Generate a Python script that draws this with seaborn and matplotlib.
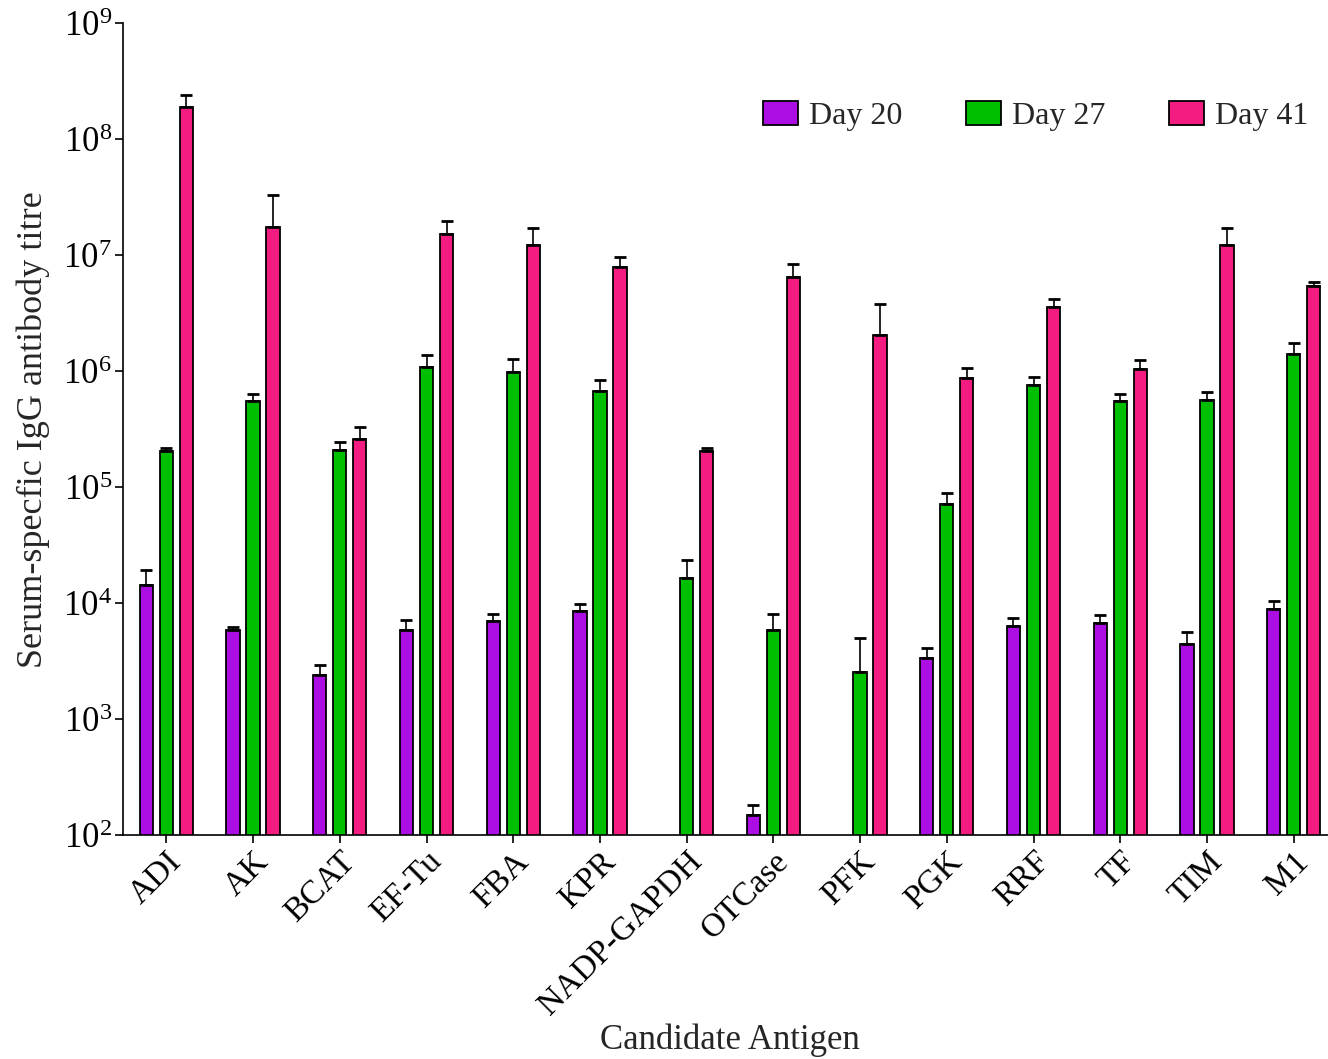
import numpy as np
import pandas as pd
import matplotlib
matplotlib.use("Agg")
import matplotlib.pyplot as plt
from matplotlib.container import BarContainer
import seaborn as sns

# Candidate antigens and serum IgG titres (mean, upper SD) per bleed day
antigens = ["ADI", "AK", "BCAT", "EF-Tu", "FBA", "KPR", "NADP-GAPDH",
            "OTCase", "PFK", "PGK", "RRF", "TF", "TIM", "M1"]
days = ["Day 20", "Day 27", "Day 41"]

day20_mean = [14450, 5810, 2410, 5890, 7030, 8590, np.nan,
              150, np.nan, 3370, 6370, 6760, 4460, 8810]
day20_top = [19100, 6210, 2900, 7180, 8080, 9870, np.nan,
             180, np.nan, 4120, 7480, 7930, 5590, 10400]

day27_mean = [204000, 555000, 208000, 1.09e6, 980000, 673000, 16400,
              5850, 2540, 71300, 763000, 558000, 568000, 1.42e6]
day27_top = [219000, 634000, 247000, 1.39e6, 1.28e6, 847000, 23600,
             8130, 4950, 89800, 888000, 634000, 659000, 1.76e6]

day41_mean = [1.89e8, 1.74e7, 259000, 1.52e7, 1.22e7, 7.93e6, 205000,
              6.46e6, 2.07e6, 881000, 3.58e6, 1.05e6, 1.23e7, 5.43e6]
day41_top = [2.41e8, 3.31e7, 329000, 1.98e7, 1.71e7, 9.66e6, 219000,
             8.47e6, 3.83e6, 1.07e6, 4.23e6, 1.26e6, 1.73e7, 5.93e6]

colors = ["#AB0DE3", "#00BF00", "#F41B81"]

means = [day20_mean, day27_mean, day41_mean]
tops = [day20_top, day27_top, day41_top]

df = pd.DataFrame({
    "Antigen": antigens * 3,
    "Day": np.repeat(days, len(antigens)),
    "Titre": np.concatenate(means),
})

sns.set_style("ticks")
plt.rcParams["font.family"] = ["Liberation Serif", "DejaVu Serif"]
plt.rcParams["mathtext.fontset"] = "custom"
plt.rcParams["mathtext.rm"] = "Liberation Serif"

fig = plt.figure(figsize=(13.28, 10.59), dpi=100)
W, H = 1328, 1059
ax = fig.add_axes([123 / W, (H - 835) / H, (1337 - 123) / W, (835 - 23.3) / H])

sns.barplot(data=df, x="Antigen", y="Titre", hue="Day", order=antigens,
            hue_order=days, palette=colors, saturation=1, width=0.692,
            gap=0.333, edgecolor="black", linewidth=1.3, errorbar=None,
            log_scale=True, ax=ax)

# one-sided (upper) error bars placed at each drawn bar
bar_groups = [c for c in ax.containers if isinstance(c, BarContainer)]
for c, cont in enumerate(bar_groups):
    for p in cont:
        if p is None:
            continue
        xc = p.get_x() + p.get_width() / 2
        i = int(round(xc))
        m = means[c][i]
        if np.isnan(m):
            continue
        up = tops[c][i] - m
        ax.errorbar(xc, m, yerr=[[0], [up]], fmt="none", ecolor="black",
                    elinewidth=1.2, capsize=4, capthick=2, zorder=1)

ax.set_yscale("log")
ax.set_ylim(1e2, 1e9)
ax.set_xlim(-0.5, 13.5)
ax.yaxis.set_major_locator(matplotlib.ticker.LogLocator(base=10, numticks=10))
ax.yaxis.set_minor_locator(matplotlib.ticker.NullLocator())

for s in ["top", "right"]:
    ax.spines[s].set_visible(False)
for s in ["left", "bottom"]:
    ax.spines[s].set_linewidth(1.2)
    ax.spines[s].set_color("black")

ax.tick_params(axis="y", direction="out", length=6, width=1.2,
               labelsize=25, pad=2, colors="black")
ax.tick_params(axis="x", direction="out", length=6, width=1.2,
               labelsize=24, pad=2, colors="black")
for lab in ax.get_xticklabels():
    lab.set_rotation(45)
    lab.set_ha("right")
    lab.set_va("top")
    lab.set_rotation_mode("anchor")

ax.set_xlabel("Candidate Antigen", fontsize=25, va="center")
ax.xaxis.set_label_coords(0.5, -(1040 - 835) / (835 - 23.3))
ax.set_ylabel("Serum-specfic IgG antibody titre", fontsize=26, va="center")
ax.yaxis.set_label_coords(-(123 - 33) / (1337 - 123), 0.5)

handles, labels = ax.get_legend_handles_labels()
ax.legend(handles, labels, loc="center left",
          bbox_to_anchor=(763 / W, 1 - 116 / H),
          bbox_transform=fig.transFigure, ncol=3, frameon=False,
          fontsize=23, handlelength=1.1, handleheight=0.8,
          handletextpad=0.35, columnspacing=1.98, borderpad=0,
          borderaxespad=0)

fig.savefig("out.png", dpi=100)
